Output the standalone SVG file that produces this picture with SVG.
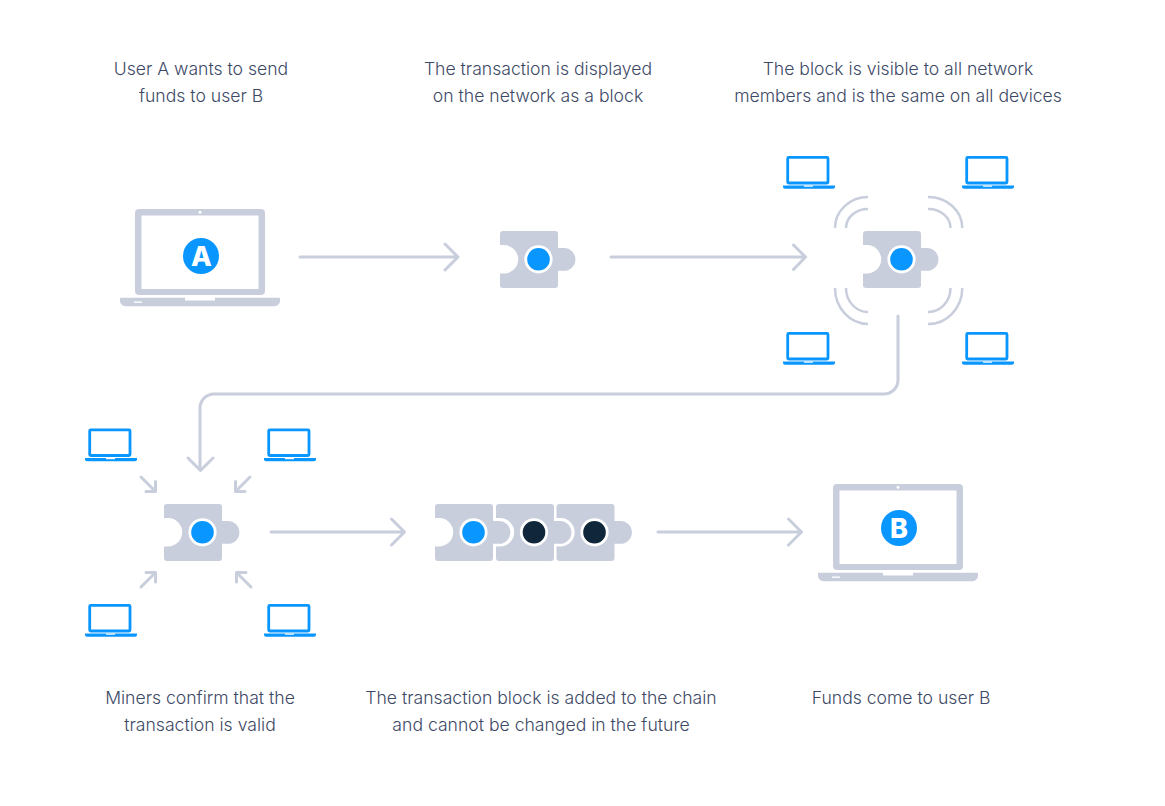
<svg xmlns="http://www.w3.org/2000/svg" width="1165" height="806" viewBox="0 0 1165 806">
<style>
.t{font-family:"Inter","Liberation Sans",sans-serif;font-size:17.6px;font-weight:300;fill:#3d4966;text-anchor:middle}
.c{fill:none;stroke:#c9cedd;stroke-width:3;stroke-linecap:round;stroke-linejoin:round}
.w{fill:none;stroke:#c9cedd;stroke-width:2.5;stroke-linecap:butt}
.p{fill:#c9cedd}
.g{fill:#c9cedd}
.b{fill:#0a96ff}
.ring{stroke:#fff;stroke-width:2.8}
.letter{font-family:"Inter","Liberation Sans",sans-serif;font-size:27px;font-weight:800;fill:#fff;text-anchor:middle}
</style>
<defs>
<path id="piece" d="M3 0H55a3 3 0 0 1 3 3V17h6a11.400 11.400 0 0 1 0 22.800h-6V54a3 3 0 0 1-3 3H3a3 3 0 0 1-3-3V42.500H4a14.200 14.200 0 0 0 0-28.400H0V3a3 3 0 0 1 3-3z"/>
<g id="block-blue"><use href="#piece" class="p"/><circle cx="38.500" cy="28.300" r="12.700" class="b ring"/></g>
<g id="block-dark"><use href="#piece" class="p"/><circle cx="38" cy="28.300" r="12.700" fill="#10263a" class="ring"/></g>
<g id="small-laptop">
<rect x="4.700" y="1.400" width="40.300" height="25.600" rx="1" fill="#fff" stroke="#0a96ff" stroke-width="2.800"/>
<path class="b" d="M0 29.500H52v1.200a2 2 0 0 1-2 2H2a2 2 0 0 1-2-2z"/>
<rect x="21" y="29.500" width="9" height="1.200" fill="#fff"/>
</g>
<g id="big-laptop">
<rect x="15" y="0" width="130" height="86" rx="4" class="g"/>
<rect x="21.500" y="6.500" width="117" height="73.500" fill="#fff"/>
<circle cx="80" cy="3.200" r="1.500" fill="#fff"/>
<path class="g" d="M0 88.700H65V91.500H95V88.700H160V91.700a5.500 5.500 0 0 1-5.500 5.500H5.500a5.500 5.500 0 0 1-5.500-5.500z"/>
<rect x="14" y="92.500" width="8" height="1.300" fill="#fff"/>
</g>
</defs>
<g id="connectors">
<path class="c" d="M300 257H458M445 244l13 13-13 13"/>
<path class="c" d="M611 257H805.500M793.500 245l12 12-12 12.500"/>
<path class="c" d="M898 316V380a14 14 0 0 1-14 14H214a14 14 0 0 0-14 14V470M188 458l12.500 12.500 12.500-12.500"/>
<path class="c" d="M271 532H404.500M391.500 519l13 13-13 13"/>
<path class="c" d="M658 532H801.500M788.500 519l13 13-13 13"/>
<path class="c" d="M141 477L155.500 491.500M155.500 481.500V491.500H146"/>
<path class="c" d="M250 477L235.500 491.500M235.500 481.500V491.500H245"/>
<path class="c" d="M141 587L155.500 572.500M155.500 582V572.500H146"/>
<path class="c" d="M251 587L236.500 572.500M236.500 582V572.500H246"/>
</g>
<g id="waves">
<path class="w" d="M835 228A33 31 0 0 1 868 197M846 228A22 19 0 0 1 868 209"/>
<path class="w" d="M962.300 228A34 31 0 0 0 928 197M950.500 228A22 19 0 0 0 928 209"/>
<path class="w" d="M835 288A33 36 0 0 0 868 324M846 288A22 24 0 0 0 868 312"/>
<path class="w" d="M962.300 288A34 36 0 0 1 928 324M950.500 288A22 24 0 0 1 928 312"/>
</g>
<g id="node-sender"><use href="#big-laptop" x="120" y="209"/><circle cx="201" cy="256" r="18" class="b"/><text class="letter" x="201.500" y="266">A</text></g>
<g id="node-block1"><use href="#block-blue" x="500" y="231"/></g>
<g id="node-block2"><use href="#block-blue" x="863" y="231"/></g>
<g id="node-device1"><use href="#small-laptop" x="783" y="156"/></g>
<g id="node-device2"><use href="#small-laptop" x="962" y="156"/></g>
<g id="node-device3"><use href="#small-laptop" x="783" y="332"/></g>
<g id="node-device4"><use href="#small-laptop" x="962" y="332"/></g>
<g id="node-miner1"><use href="#small-laptop" x="85" y="428.500"/></g>
<g id="node-miner2"><use href="#small-laptop" x="264" y="428.500"/></g>
<g id="node-miner3"><use href="#small-laptop" x="85" y="604"/></g>
<g id="node-miner4"><use href="#small-laptop" x="264" y="604"/></g>
<g id="node-block3"><use href="#block-blue" x="164" y="504"/></g>
<g id="node-chain">
<use href="#block-blue" x="435" y="504"/>
<use href="#block-dark" x="496" y="504"/>
<use href="#block-dark" x="556.500" y="504"/>
</g>
<g id="node-receiver"><use href="#big-laptop" x="818" y="484"/><circle cx="899" cy="528" r="18" class="b"/><text class="letter" x="899" y="538">B</text></g>
<g id="labels">
<text class="t" x="201" y="75">User A wants to send</text>
<text class="t" x="201" y="102">funds to user B</text>
<text class="t" x="538" y="75">The transaction is displayed</text>
<text class="t" x="538" y="102">on the network as a block</text>
<text class="t" x="898" y="75">The block is visible to all network</text>
<text class="t" x="898" y="102">members and is the same on all devices</text>
<text class="t" x="200" y="704">Miners confirm that the</text>
<text class="t" x="200" y="731">transaction is valid</text>
<text class="t" x="541" y="704">The transaction block is added to the chain</text>
<text class="t" x="541" y="731">and cannot be changed in the future</text>
<text class="t" x="901" y="704">Funds come to user B</text>
</g>
</svg>
